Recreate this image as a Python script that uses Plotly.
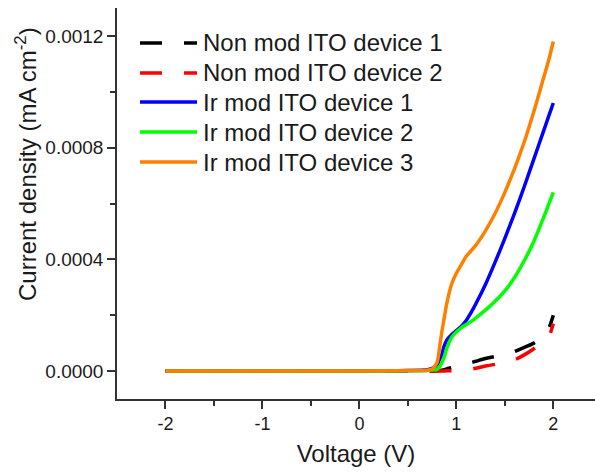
import plotly.graph_objects as go

# ---------------- data ----------------
voltage = [-2.0, -1.5, -1.0, -0.5, 0.0, 0.3, 0.5, 0.7, 0.75, 0.8, 0.825, 0.85, 0.875,
           0.9, 0.95, 1.0, 1.05, 1.1, 1.15, 1.2, 1.3, 1.4, 1.5, 1.6, 1.7, 1.8, 1.9, 1.95, 2.0]

non_mod_1 = [0, 0, 0, 0, 0, 0, 0, 0, 0, 0.000001, 0.000002, 0.000003, 0.000005,
             0.000008, 0.000012, 0.000016, 0.00002, 0.000025, 0.00003, 0.000035, 0.000045, 0.000052,
             0.00006, 0.00007, 0.000085, 0.0001, 0.000125, 0.00015, 0.0002]
non_mod_2 = [0, 0, 0, 0, 0, 0, 0, 0, 0, 0, 0, 0, 0,
             0.000001, 0.000001, 0.000002, 0.000003, 0.000005, 0.000007, 0.00001, 0.000018, 0.000024,
             0.00003, 0.00004, 0.000058, 0.00008, 0.000105, 0.00012, 0.00017]
ir_mod_1 = [0, 0, 0, 0, 0, 0.000001, 0.000002, 0.000005, 0.00001, 0.00002, 0.00004, 0.00006, 0.00009,
            0.00011, 0.00013, 0.000145, 0.00016, 0.00018, 0.000208, 0.00024, 0.00031, 0.00039,
            0.000475, 0.000565, 0.00066, 0.00076, 0.00086, 0.00091, 0.00096]
ir_mod_2 = [0, 0, 0, 0, 0, 0, 0.000001, 0.000002, 0.000004, 0.000006, 0.000015, 0.00003, 0.00005,
            0.00008, 0.00012, 0.00014, 0.000155, 0.000166, 0.000177, 0.00019, 0.000218, 0.00025,
            0.000287, 0.000335, 0.000395, 0.000465, 0.00055, 0.000595, 0.00064]
ir_mod_3 = [0, 0, 0, 0, 0, 0.000001, 0.000002, 0.000003, 0.000008, 0.00003, 0.00008, 0.00014, 0.00019,
            0.00024, 0.00031, 0.00035, 0.00038, 0.00041, 0.00043, 0.00045, 0.000502, 0.000565,
            0.00064, 0.000725, 0.00082, 0.00093, 0.00105, 0.00111, 0.00118]

series_names = ["Non mod ITO device 1", "Non mod ITO device 2",
                "Ir mod ITO device 1", "Ir mod ITO device 2", "Ir mod ITO device 3"]
series_values = [non_mod_1, non_mod_2, ir_mod_1, ir_mod_2, ir_mod_3]
series_colors = ["#000000", "#ff0000", "#0000ff", "#00ff00", "#ff8000"]
series_dash = ["22px,22px", "22px,22px", "solid", "solid", "solid"]

x_tickvals = [-2, -1, 0, 1, 2]
x_ticktext = ["-2", "-1", "0", "1", "2"]
y_tickvals = [0.0, 0.0004, 0.0008, 0.0012]
y_ticktext = ["0.0000", "0.0004", "0.0008", "0.0012"]

FONT = "Arial, Liberation Sans, sans-serif"
W, H = 595, 473
ML, MR, MT, MB = 117, 0, 8, 74

fig = go.Figure()
for name, vals, col, dash in zip(series_names, series_values, series_colors, series_dash):
    fig.add_trace(go.Scatter(x=voltage, y=vals, mode="lines", name=name,
                             line=dict(color=col, width=3.5, dash=dash, shape="spline", smoothing=0.8),
                             showlegend=False))

# manual legend (line samples + labels), positioned in paper coordinates
pw, ph = W - ML - MR, H - MT - MB
def px_x(px):
    return (px - ML) / pw
def px_y(py):
    return (H - MB - py) / ph

legend_y = [43, 73, 102, 132, 162]
shapes = []
annotations = []
for name, col, dash, ly in zip(series_names, series_colors, series_dash, legend_y):
    shapes.append(dict(type="line", xref="paper", yref="paper",
                       x0=px_x(140), x1=px_x(197), y0=px_y(ly), y1=px_y(ly),
                       line=dict(color=col, width=3.5, dash=dash)))
    annotations.append(dict(xref="paper", yref="paper", x=px_x(201), y=px_y(ly),
                            xanchor="left", yanchor="middle", showarrow=False,
                            text=name, font=dict(family=FONT, size=24, color="#1a1a1a")))

annotations.append(dict(xref="paper", yref="paper", x=px_x(26), y=px_y(164),
                        xanchor="center", yanchor="middle", showarrow=False, textangle=-90,
                        text="Current density (mA cm<sup>-2</sup>)",
                        font=dict(family=FONT, size=24, color="#1a1a1a")))

fig.update_layout(
    width=W, height=H,
    margin=dict(l=ML, r=MR, t=MT, b=MB, pad=0),
    paper_bgcolor="white", plot_bgcolor="white",
    font=dict(family=FONT, color="#1a1a1a"),
    shapes=shapes, annotations=annotations,
    showlegend=False,
)
fig.update_xaxes(range=[-2.5, 2.43], showgrid=False, zeroline=False,
                 showline=True, linecolor="#333333", linewidth=1.5,
                 ticks="outside", ticklen=8, tickwidth=1.5, tickcolor="#333333",
                 tickvals=x_tickvals, ticktext=x_ticktext,
                 tickfont=dict(family=FONT, size=18, color="#1a1a1a"),
                 minor=dict(ticks="outside", ticklen=5, tickwidth=1.5, tickcolor="#333333",
                            tickmode="array", tickvals=[-1.5, -0.5, 0.5, 1.5]),
                 title=dict(text="Voltage (V)", font=dict(family=FONT, size=24, color="#1a1a1a"),
                            standoff=12))
fig.update_yaxes(range=[-0.0001, 0.0013], showgrid=False, zeroline=False,
                 showline=True, linecolor="#333333", linewidth=1.5,
                 ticks="outside", ticklen=8, tickwidth=1.5, tickcolor="#333333",
                 tickvals=y_tickvals, ticktext=y_ticktext,
                 tickfont=dict(family=FONT, size=19, color="#1a1a1a"),
                 minor=dict(ticks="outside", ticklen=5, tickwidth=1.5, tickcolor="#333333",
                            tickmode="array", tickvals=[0.0002, 0.0006, 0.001]))

fig.write_html("out.html")
